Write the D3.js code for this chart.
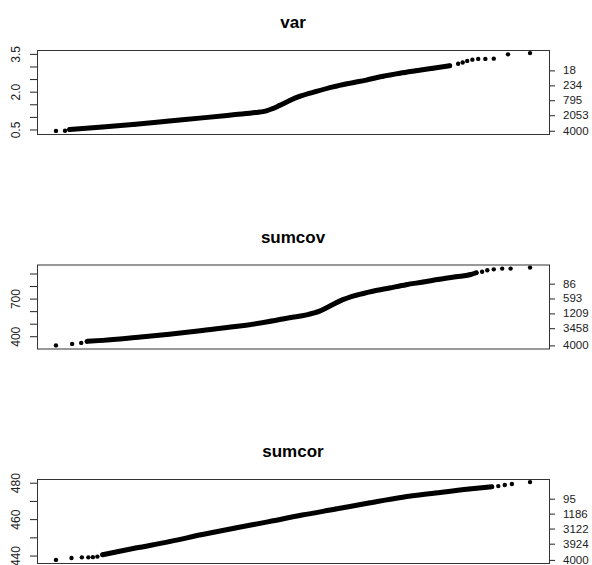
<!DOCTYPE html>
<html>
<head>
<meta charset="utf-8">
<script src="https://cdn.jsdelivr.net/npm/d3@7"></script>
<style>
body { margin: 0; background: #fff; }
svg { display: block; font-family: "Liberation Sans", Arial, Helvetica, sans-serif; }
</style>
</head>
<body>
<div id="chart"></div>
<script>
// Sorted values plotted against theoretical quantiles (x axis hidden)
// right axis: how many values lie above each level

const titles = ['var', 'sumcov', 'sumcor'];

const varQ = [-3.66, -3.52, -3.45, -2.94, -2.43, -1.91, -1.40, -0.89, -0.58, -0.41, -0.31, -0.21, -0.05, 0.10,
    0.36, 0.62, 0.87, 1.13, 1.39, 1.65, 1.90, 2.16, 2.42,
    2.55, 2.62, 2.69, 2.77, 2.86, 2.97, 3.10, 3.32, 3.66];
const varVal = [0.464, 0.472, 0.52, 0.62, 0.73, 0.86, 0.98, 1.11, 1.19, 1.26, 1.35, 1.47, 1.67, 1.83,
    2.03, 2.21, 2.35, 2.48, 2.63, 2.75, 2.85, 2.95, 3.05,
    3.13, 3.18, 3.24, 3.29, 3.32, 3.32, 3.33, 3.50, 3.55];
const varLone = [2, 9]; // isolated points at each end
const varTicks = [0.5, 1.0, 1.5, 2.0, 2.5, 3.0, 3.5];
const varTickLabels = ['0.5', '', '', '2.0', '', '', '3.5'];
const varRankAt = [2.865, 2.27, 1.68, 1.085, 0.47];
const varRanks = ['18', '234', '795', '2053', '4000'];

const sumcovQ = [-3.66, -3.41, -3.27, -3.18, -2.94, -2.43, -1.91, -1.40, -0.89, -0.37, -0.05, 0.21,
    0.41, 0.57, 0.72, 0.98, 1.23, 1.49, 1.75, 2.01, 2.26, 2.52, 2.73, 2.83,
    2.92, 3.00, 3.10, 3.23, 3.36, 3.66];
const sumcovVal = [331, 343, 351, 363, 371, 394.5, 420.5, 450, 481, 521, 552, 574,
    604, 645, 684, 731, 763, 789, 815, 836, 858, 878, 894, 910,
    918, 930, 937, 943, 943, 951];
const sumcovLone = [3, 6];
const sumcovTicks = [400, 500, 600, 700, 800, 900];
const sumcovTickLabels = ['400', '', '', '700', '', ''];
const sumcovRankAt = [823, 705, 586, 468, 331];
const sumcovRanks = ['86', '593', '1209', '3458', '4000'];

const sumcorQ = [-3.66, -3.42, -3.26, -3.16, -3.09, -3.02, -2.94, -2.43, -1.91, -1.40, -0.89, -0.37,
    0.14, 0.66, 1.17, 1.69, 2.20, 2.72, 3.07, 3.17, 3.27, 3.38, 3.66];
const sumcorVal = [437.9, 438.9, 439.3, 439.3, 439.4, 439.7, 440.7, 444.4, 447.9, 451.8, 455.4, 458.9,
    462.5, 465.8, 469.1, 472.3, 474.6, 476.8, 478.0, 478.4, 479.0, 479.6, 480.6];
const sumcorLone = [6, 4];
const sumcorTicks = [440, 450, 460, 470, 480];
const sumcorTickLabels = ['440', '', '460', '', '480'];
const sumcorRankAt = [471.5, 463.3, 455.1, 446.8, 437.9];
const sumcorRanks = ['95', '1186', '3122', '3924', '4000'];

const panels = [
    { q: varQ, v: varVal, lone: varLone, ticks: varTicks, tickLabels: varTickLabels, rankAt: varRankAt, ranks: varRanks },
    { q: sumcovQ, v: sumcovVal, lone: sumcovLone, ticks: sumcovTicks, tickLabels: sumcovTickLabels, rankAt: sumcovRankAt, ranks: sumcovRanks },
    { q: sumcorQ, v: sumcorVal, lone: sumcorLone, ticks: sumcorTicks, tickLabels: sumcorTickLabels, rankAt: sumcorRankAt, ranks: sumcorRanks }
];

const width = 592;
const height = 565;
const box = { left: 37, right: 549, top: 50, height: 84, step: 214.5 };

const svg = d3.select('#chart').append('svg')
    .attr('width', width)
    .attr('height', height);

// R style 4% padding on both ends
function padded(values) {
    const [lo, hi] = d3.extent(values);
    const pad = (hi - lo) * 0.04;
    return [lo - pad, hi + pad];
}

function drawPanel(p, i) {
    const top = box.top + i * box.step;
    const bottom = top + box.height;
    const g = svg.append('g');

    const x = d3.scaleLinear()
        .domain(padded(p.q))
        .range([box.left, box.right]);

    const y = d3.scaleLinear()
        .domain(padded(p.v))
        .range([bottom, top]);

    const pts = p.q.map((q, k) => ({ q: q, v: p.v[k] }));
    const band = pts.slice(p.lone[0], pts.length - p.lone[1]);

    g.append('text')
        .attr('x', (box.left + box.right) / 2)
        .attr('y', top - 22)
        .attr('text-anchor', 'middle')
        .style('font-size', '17px')
        .style('font-weight', 'bold')
        .text(titles[i]);

    // left axis
    const left = g.append('g')
        .attr('transform', `translate(${box.left},0)`)
        .call(d3.axisLeft(y).tickValues(p.ticks).tickSize(7).tickFormat((d, k) => p.tickLabels[k]));
    left.select('.domain').remove();
    left.selectAll('line').attr('stroke', '#222');
    left.selectAll('text')
        .attr('transform', function(d) { return `rotate(-90,-21,${y(d)})`; })
        .attr('x', -21)
        .attr('dy', '0.35em')
        .attr('y', d => y(d))
        .style('text-anchor', 'middle')
        .style('font-size', '12px')
        .attr('fill', '#222');
    left.selectAll('.tick').attr('transform', null);
    left.selectAll('.tick line').attr('y1', d => y(d)).attr('y2', d => y(d));

    // right axis with counts
    const rank = d3.scaleOrdinal().domain(p.rankAt).range(p.ranks);
    const right = g.append('g')
        .attr('transform', `translate(${box.right},0)`)
        .call(d3.axisRight(y).tickValues(p.rankAt).tickSize(6).tickPadding(8).tickFormat(d => rank(d)));
    right.select('.domain').remove();
    right.selectAll('line').attr('stroke', '#222');
    right.selectAll('text').style('font-size', '11.5px').attr('dy', '0.3em').attr('fill', '#222');

    g.append('rect')
        .attr('x', box.left + 0.5)
        .attr('y', top + 0.5)
        .attr('width', box.right - box.left)
        .attr('height', box.height)
        .attr('fill', 'none')
        .attr('stroke', '#333');

    g.append('path')
        .datum(band)
        .attr('d', d3.line().x(d => x(d.q)).y(d => y(d.v)).curve(d3.curveMonotoneX))
        .attr('fill', 'none')
        .attr('stroke', '#000')
        .attr('stroke-width', 5)
        .attr('stroke-linecap', 'round');

    g.append('g')
        .selectAll('circle')
        .data(pts)
        .join('circle')
        .attr('cx', d => x(d.q))
        .attr('cy', d => y(d.v))
        .attr('r', 2.2)
        .attr('fill', '#000');
}

panels.forEach(drawPanel);
</script>
</body>
</html>
